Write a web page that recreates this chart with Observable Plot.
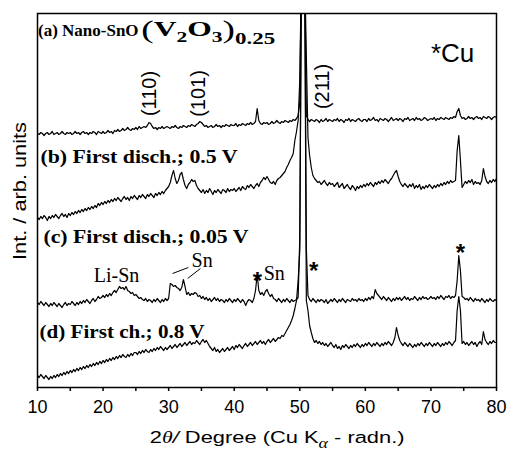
<!DOCTYPE html>
<html><head><meta charset="utf-8">
<script src="https://cdn.jsdelivr.net/npm/d3@7"></script>
<script src="https://cdn.jsdelivr.net/npm/@observablehq/plot@0.6"></script>
<style>body{margin:0;background:#fff}svg{display:block}</style>
</head><body><div id="chart"></div>
<script>
// 2θ grid of the scans (degrees)
const twoThetaStart = 10, twoThetaStep = 0.25;
// Intensities (arb. units, stacked)
const traceA = [
254,253,255,254,252,254,255,253,254,256,253,254,255,253,254,256,254,253,255,254,
255,253,254,256,254,255,253,255,256,254,255,253,255,254,256,255,253,256,255,254,
256,254,255,257,255,256,254,257,256,258,256,257,259,257,258,260,258,257,259,258,
260,258,261,259,260,261,260,262,265,264,261,259,260,258,260,259,261,259,260,261,
260,259,261,260,262,260,259,261,260,262,261,260,262,261,263,262,261,263,264,266,
265,263,261,262,260,261,262,260,261,263,261,262,260,262,261,263,262,261,263,262,
262,264,261,263,262,264,263,262,264,263,265,263,264,266,279,267,264,263,265,264,
265,263,264,266,264,265,267,265,264,266,265,267,266,265,267,266,268,267,269,272,
285,420,420,420,272,268,266,268,267,266,268,267,265,268,266,267,269,266,268,267,
266,268,267,269,266,268,267,265,268,267,269,266,268,267,266,268,269,267,266,268,
268,266,269,267,268,270,267,268,266,269,268,267,269,268,266,268,270,267,268,269,
267,269,268,266,269,268,270,267,268,269,267,270,268,269,267,268,270,269,267,268,
269,268,270,267,269,268,270,269,268,270,269,268,270,269,271,270,276,279,272,269,
270,268,269,271,269,270,268,270,271,269,270,268,271,270,269,271,270,268,270,271,
270];
const traceB = [
170,168,171,169,172,170,167,171,169,172,170,173,171,169,172,174,171,173,170,174,
172,175,173,176,174,177,175,178,176,179,177,180,178,181,179,182,180,184,182,185,
183,186,184,187,185,188,186,189,187,190,188,186,189,191,188,190,187,191,189,192,
190,188,192,190,193,191,189,193,191,194,192,190,194,192,195,193,196,194,197,199,
201,205,212,217,209,204,207,213,215,208,202,199,203,205,208,206,207,202,199,197,
195,198,194,197,195,199,196,193,197,195,198,196,194,198,197,195,199,196,198,197,
199,196,198,200,197,201,199,198,202,200,203,201,199,202,204,201,205,207,210,208,
211,208,205,204,206,203,207,209,210,212,214,216,220,223,227,230,234,247,256,267,
307,420,420,420,330,250,232,220,212,209,207,205,206,203,205,207,204,202,205,203,
204,201,203,205,200,202,204,199,201,203,200,198,202,200,197,201,199,202,200,203,
201,204,202,205,203,201,205,203,206,204,207,205,208,206,204,207,209,212,215,217,
211,206,203,201,204,202,200,203,201,204,199,202,200,203,198,201,199,202,200,203,
201,199,202,200,203,201,204,202,205,203,206,204,207,205,206,207,237,252,227,200,
203,206,204,207,205,208,203,206,204,205,203,207,219,211,206,204,207,205,208,206,
209];
const traceC = [
85,83,86,84,82,85,83,81,84,82,85,83,81,84,82,80,83,85,82,84,
83,86,84,82,85,83,86,84,87,85,88,86,84,87,89,86,88,91,89,90,
92,90,93,91,94,92,95,97,95,98,101,99,100,98,101,97,96,94,95,92,
93,91,89,90,88,87,89,86,88,87,85,88,86,89,87,85,88,86,89,87,
89,104,103,101,102,100,99,97,100,108,101,93,95,92,94,93,95,94,91,92,
89,91,88,90,87,89,86,88,90,87,89,86,88,87,85,88,86,89,87,85,
88,86,89,87,85,88,86,82,86,88,87,85,89,97,113,97,93,95,92,96,
98,94,91,93,89,88,86,89,87,85,88,86,89,87,85,88,86,87,88,90,
150,420,420,420,139,92,88,86,89,87,85,88,86,88,87,85,88,84,86,88,
86,89,87,85,88,86,89,87,85,88,87,86,89,87,88,86,89,87,88,86,
89,87,90,88,91,89,98,94,92,90,88,91,89,87,90,88,86,89,87,90,
88,90,87,89,91,88,90,87,89,88,91,89,87,90,88,91,89,90,88,89,
91,89,90,88,91,89,92,90,88,91,90,92,89,91,90,92,107,132,117,91,
90,88,89,87,90,88,86,89,87,88,86,89,87,85,88,86,89,87,86,88,
87];
const traceD = [
12,10,13,11,9,12,10,8,11,9,12,10,13,11,14,12,15,13,16,14,
17,15,18,16,19,17,20,18,21,19,22,20,23,21,24,22,25,23,26,24,
27,25,28,26,29,27,30,28,31,29,32,30,33,31,30,33,31,34,32,35,
35,33,36,34,37,35,38,36,35,38,36,39,37,40,38,41,39,37,40,38,
40,42,39,41,43,40,42,44,41,43,45,42,44,46,43,45,44,47,45,43,
46,48,45,47,44,41,39,37,40,36,38,35,37,39,36,38,40,37,39,41,
38,42,40,43,41,39,42,44,41,43,45,42,44,46,43,45,47,44,46,43,
46,48,45,47,49,46,48,50,49,52,51,54,57,60,63,67,72,79,87,107,
137,420,420,420,87,77,62,55,49,45,47,44,46,43,45,42,44,41,43,45,
42,40,43,39,41,38,42,40,43,41,39,42,40,43,41,44,42,40,43,41,
44,42,45,43,41,44,42,45,43,41,44,42,45,43,46,44,42,45,50,60,
52,47,44,42,45,43,41,44,42,40,43,41,44,42,45,43,41,44,42,45,
43,41,44,42,45,43,41,44,42,45,43,46,44,42,45,47,77,91,77,44,
46,43,45,42,44,46,43,45,41,44,46,43,56,48,45,43,46,44,47,45,
45];
const traceIds = ["a", "b", "c", "d"];

// axis ticks
const xTicks = [10,15,20,25,30,35,40,45,50,55,60,65,70,75,80];
const xTickLabels = [10,20,30,40,50,60,70,80];

// trace labels (bold serif)
const sampleLabels = ["(b) First disch.; 0.5 V", "(c) First disch.; 0.05 V", "(d) First ch.; 0.8 V"];
const sampleLabelX = [10.45, 10.9, 10.3];
const sampleLabelY = [225, 145, 50];
// hkl labels
const hklLabels = ["(110)", "(101)", "(211)"];
const hklX = [27.1, 34.5, 53.5];
const hklY = [294, 294, 301];
// phase labels
const phaseLabels = ["Li-Sn", "Sn"];
const phaseX = [22.05, 35.1];
const phaseY = [112, 127];
const snStarLabel = "Sn", snStarX = 44.5, snStarY = 114;
// Cu asterisks
const starX = [43.55, 52.1, 74.5];
const starY = [112, 122, 140];
// leader lines to Sn peaks
const leaderX1 = [30.6, 32.9], leaderY1 = [114, 109], leaderX2 = [33.0, 34.85], leaderY2 = [120, 119];

const rows = [];
[traceA, traceB, traceC, traceD].forEach((arr, k) =>
  arr.forEach((v, i) => rows.push({trace: traceIds[k], x: twoThetaStart + i * twoThetaStep, y: v})));

const sans = "Liberation Sans, Arial, sans-serif";
const serif = "Liberation Serif, Times New Roman, serif";

const plot = Plot.plot({
  width: 507, height: 452,
  marginLeft: 37, marginRight: 11, marginTop: 13, marginBottom: 65,
  style: {background: "#fff", color: "#000"},
  x: {domain: [10, 80]},
  y: {domain: [0, 374], axis: null},
  marks: [
    Plot.line(rows, {x: "x", y: "y", z: "trace", stroke: "#000", strokeWidth: 1.2, clip: true}),
    Plot.frame({stroke: "#000", strokeWidth: 1.5}),
    Plot.axisX({ticks: xTicks, tickSize: 4, tickPadding: 9, strokeWidth: 1.5,
      tickFormat: d => xTickLabels.includes(d) ? String(d) : "",
      fontSize: 18, fontFamily: sans, label: null}),
    Plot.text(sampleLabels, {x: (d, i) => sampleLabelX[i], y: (d, i) => sampleLabelY[i], text: d => d,
      textAnchor: "start", lineAnchor: "bottom", fontFamily: serif, fontWeight: "bold", fontSize: 18, fill: "#000"}),
    Plot.text(hklLabels, {x: (d, i) => hklX[i], y: (d, i) => hklY[i], text: d => d, rotate: -90,
      fontFamily: sans, fontSize: 20, fill: "#000"}),
    Plot.text(phaseLabels, {x: (d, i) => phaseX[i], y: (d, i) => phaseY[i], text: d => d,
      fontFamily: serif, fontSize: 20, fill: "#000"}),
    Plot.text([snStarLabel], {x: () => snStarX, y: () => snStarY, text: d => d, textAnchor: "start",
      fontFamily: serif, fontSize: 20, fill: "#000"}),
    Plot.text(starX, {x: d => d, y: (d, i) => starY[i], text: () => "*", dy: 6,
      fontFamily: sans, fontWeight: "bold", fontSize: 24, fill: "#000"}),
    Plot.text(["*Cu"], {x: () => 73.3, y: () => 334, text: d => d, fontFamily: sans, fontSize: 26, fill: "#000"}),
    Plot.link(leaderX1, {x1: d => d, y1: (d, i) => leaderY1[i], x2: (d, i) => leaderX2[i], y2: (d, i) => leaderY2[i],
      stroke: "#000", strokeWidth: 1})
  ]
});
document.getElementById("chart").appendChild(plot);

const svg = d3.select(plot);
const sx = plot.scale("x"), sy = plot.scale("y");

// stretch the bold serif labels to the reference widths
const labelWidths = {"(b) First disch.; 0.5 V": 197, "(c) First disch.; 0.05 V": 205, "(d) First ch.; 0.8 V": 165};
svg.selectAll("text").each(function () {
  const t = this.textContent;
  if (labelWidths[t]) d3.select(this).attr("textLength", labelWidths[t]).attr("lengthAdjust", "spacingAndGlyphs");
});

// helper: place a start-anchored text at (x, y) and stretch it horizontally to a given width
function stretched(x, y, width, build) {
  const g = svg.append("g");
  const t = g.append("text").attr("fill", "#000").attr("text-anchor", "start");
  build(t);
  const w = t.node().getComputedTextLength();
  g.attr("transform", `translate(${x},${y}) scale(${width / w},1)`);
  return t;
}

// (a) label with subscripts
svg.append("text")
  .attr("x", sx.apply(10.15)).attr("y", sy.apply(351)).attr("text-anchor", "start")
  .attr("font-family", serif).attr("font-weight", "bold").attr("font-size", 17).attr("fill", "#000")
  .text("(a) Nano-SnO");
stretched(sx.apply(25.9), sy.apply(351), 134, t => {
  t.attr("font-family", serif).attr("font-weight", "bold").attr("font-size", 22);
  t.append("tspan").attr("font-size", 26).attr("font-weight", "normal").attr("dy", 2).text("(");
  t.append("tspan").attr("dy", -2).text("V");
  t.append("tspan").attr("font-size", 15).attr("dy", 6).text("2");
  t.append("tspan").attr("dy", -6).text("O");
  t.append("tspan").attr("font-size", 15).attr("dy", 6).text("3");
  t.append("tspan").attr("font-size", 26).attr("font-weight", "normal").attr("dy", -4).text(")");
  t.append("tspan").attr("font-size", 16).attr("dy", 6).text("0.25");
});

// x axis title
stretched(sx.apply(27.2), 443, 255, t => {
  t.attr("font-family", sans).attr("font-size", 17);
  t.append("tspan").text("2");
  t.append("tspan").attr("font-family", serif).attr("font-style", "italic").text("θ");
  t.append("tspan").attr("font-style", "italic").text("/");
  t.append("tspan").text(" Degree (Cu K");
  t.append("tspan").attr("font-family", serif).attr("font-style", "italic").attr("font-size", 14).attr("dy", 5).text("α");
  t.append("tspan").attr("dy", -5).text(" - radn.)");
});

// y axis title
svg.append("text")
  .attr("transform", `translate(20,${sy.apply(196)}) rotate(-90)`)
  .attr("text-anchor", "middle").attr("dy", "0.35em")
  .attr("font-family", sans).attr("font-size", 18).attr("fill", "#000")
  .attr("textLength", 138).attr("lengthAdjust", "spacingAndGlyphs")
  .text("Int. / arb. units");
</script>
</body></html>
